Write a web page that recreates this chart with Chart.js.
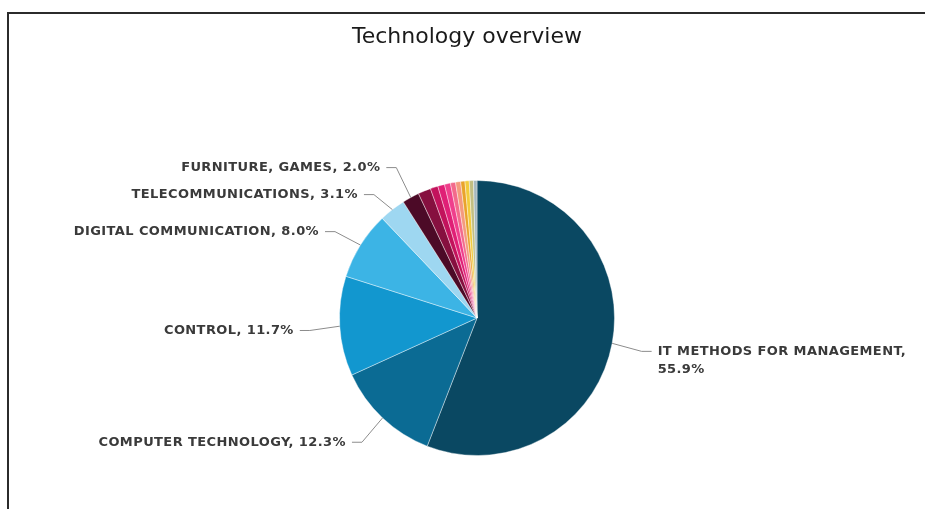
<!DOCTYPE html>
<html>
<head>
<meta charset="utf-8">
<title>Technology overview</title>
<script src="https://cdn.jsdelivr.net/npm/chart.js@4.4.0/dist/chart.umd.min.js"></script>
<style>
  html, body { margin: 0; padding: 0; background: #fff; overflow: hidden; }
  #wrap { position: relative; width: 925px; height: 509px; }
  #frame { position: absolute; left: 7px; top: 12px; width: 1000px; height: 600px;
           border-left: 2px solid #2b2b2b; border-top: 2px solid #2b2b2b; }
  canvas { position: absolute; left: 0; top: 0; }
</style>
</head>
<body>
<div id="wrap">
  <div id="frame"></div>
  <canvas id="chart" width="925" height="509"></canvas>
</div>
<script>
const chartTitle = 'Technology overview';

const categories = [
    'IT METHODS FOR MANAGEMENT',
    'COMPUTER TECHNOLOGY',
    'CONTROL',
    'DIGITAL COMMUNICATION',
    'TELECOMMUNICATIONS',
    'FURNITURE, GAMES',
    'OTHER FIELD 1', 'OTHER FIELD 2', 'OTHER FIELD 3', 'OTHER FIELD 4', 'OTHER FIELD 5',
    'OTHER FIELD 6', 'OTHER FIELD 7', 'OTHER FIELD 8', 'OTHER FIELD 9', 'OTHER FIELD 10'
];
// share in percent
const shares = [55.9, 12.3, 11.7, 8.0, 3.1, 2.0, 1.5, 0.9, 0.8, 0.7, 0.6, 0.6, 0.5, 0.5, 0.5, 0.4];

const sliceColors = [
    '#0a4862', '#0b6b94', '#1297cf', '#3cb4e5', '#9ed7f1', '#4c0a27',
    '#86103f', '#c2135c', '#e01f76', '#ef3f8c', '#f36a8b', '#f49a7e',
    '#e9a32b', '#f2cb3c', '#c2be82', '#a4b7bd'
];

// slices under 2% are left without a label
const labelMin = 2;

function spread(items, gap) {
    items.sort((a, b) => a.ly - b.ly);
    for (let k = 0; k < 30; k++) {
        let moved = false;
        for (let i = 1; i < items.length; i++) {
            const d = items[i].ly - items[i - 1].ly;
            if (d < gap) {
                const s = (gap - d) / 2;
                items[i - 1].ly -= s;
                items[i].ly += s;
                moved = true;
            }
        }
        if (!moved) break;
    }
}

const sliceLabels = {
    id: 'sliceLabels',
    afterDatasetsDraw(chart, args, opts) {
        const ctx = chart.ctx;
        const meta = chart.getDatasetMeta(0);
        const left = [], right = [];

        meta.data.forEach((arc, i) => {
            if (shares[i] < labelMin) return;
            const p = arc.getProps(['x', 'y', 'startAngle', 'endAngle', 'outerRadius']);
            const mid = (p.startAngle + p.endAngle) / 2;
            const R = p.outerRadius + opts.distance;
            const item = {
                text: categories[i] + ', ' + shares[i].toFixed(1) + '%',
                ex: p.x + Math.cos(mid) * p.outerRadius,
                ey: p.y + Math.sin(mid) * p.outerRadius,
                lx: p.x + Math.cos(mid) * R,
                ly: p.y + Math.sin(mid) * R + opts.shiftY
            };
            (Math.cos(mid) < 0 ? left : right).push(item);
        });
        spread(left, opts.gap);
        spread(right, opts.gap);

        ctx.save();
        ctx.font = opts.font;
        ctx.letterSpacing = opts.spacing;
        ctx.textBaseline = 'middle';
        ctx.strokeStyle = '#8c8c8c';
        ctx.lineWidth = 1;
        ctx.fillStyle = '#3a3a3a';

        const draw = (item, dir) => {
            ctx.beginPath();
            ctx.moveTo(item.ex, item.ey);
            ctx.lineTo(item.lx, item.ly);
            ctx.lineTo(item.lx + dir * 10, item.ly);
            ctx.stroke();

            const tx = item.lx + dir * 16;
            ctx.textAlign = dir < 0 ? 'right' : 'left';
            // wrap when the text runs past the canvas edge
            const room = dir < 0 ? tx - 10 : chart.width - 10 - tx;
            const lines = [];
            let cur = '';
            item.text.split(' ').forEach(w => {
                const next = cur ? cur + ' ' + w : w;
                if (cur && ctx.measureText(next).width > room) {
                    lines.push(cur);
                    cur = w;
                } else {
                    cur = next;
                }
            });
            lines.push(cur);
            lines.forEach((ln, j) => ctx.fillText(ln, tx, item.ly + j * opts.lineHeight));
        };
        left.forEach(it => draw(it, -1));
        right.forEach(it => draw(it, 1));

        ctx.letterSpacing = '0px';
        ctx.font = '22px "DejaVu Sans"';
        ctx.fillStyle = '#1a1a1a';
        ctx.textAlign = 'center';
        ctx.fillText(chartTitle, opts.titleX, opts.titleY);
        ctx.restore();
    }
};

new Chart(document.getElementById('chart'), {
    type: 'pie',
    data: {
        labels: categories,
        datasets: [{
            data: shares,
            backgroundColor: sliceColors,
            borderColor: 'rgba(255,255,255,0.4)',
            borderWidth: 1
        }]
    },
    options: {
        responsive: false,
        animation: false,
        layout: { padding: { top: 180, bottom: 53, left: 339, right: 310 } },
        plugins: {
            legend: { display: false },
            tooltip: { enabled: false },
            sliceLabels: {
                distance: 30,
                shiftY: 2.5,
                gap: 27,
                font: 'bold 13px "DejaVu Sans"',
                spacing: '0.4px',
                lineHeight: 18,
                titleX: 467,
                titleY: 37
            }
        }
    },
    plugins: [sliceLabels]
});
</script>
</body>
</html>
